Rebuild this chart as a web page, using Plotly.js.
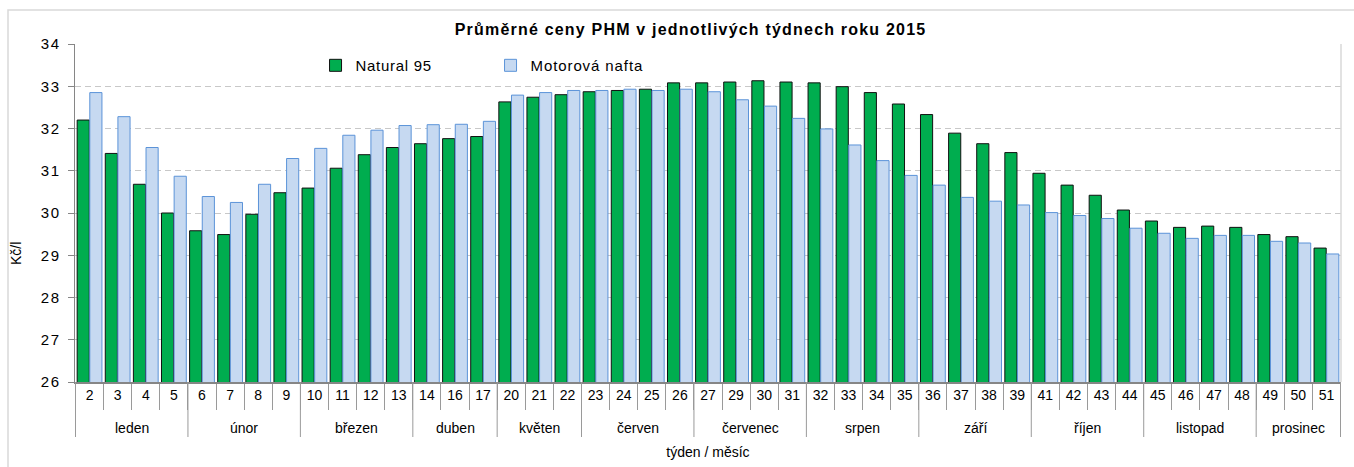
<!DOCTYPE html>
<html>
<head>
<meta charset="utf-8">
<script src="https://cdn.plot.ly/plotly-3.0.1.min.js"></script>
<style>
html,body{margin:0;padding:0;background:#fff;}
#chart{width:1354px;height:467px;}
</style>
</head>
<body>
<div id="chart"></div>
<script>
const weeks = ['2','3','4','5','6','7','8','9','10','11','12','13','14','16','17','20','21','22','23','24','25','26','27','29','30','31','32','33','34','35','36','37','38','39','41','42','43','44','45','46','47','48','49','50','51'];
const months = ['leden','leden','leden','leden','únor','únor','únor','únor','březen','březen','březen','březen','duben','duben','duben','květen','květen','květen','červen','červen','červen','červen','červenec','červenec','červenec','červenec','srpen','srpen','srpen','srpen','září','září','září','září','říjen','říjen','říjen','říjen','listopad','listopad','listopad','listopad','prosinec','prosinec','prosinec'];
const natural95 = [32.20,31.41,30.68,30.00,29.58,29.49,29.97,30.48,30.59,31.06,31.38,31.55,31.64,31.76,31.81,32.63,32.74,32.80,32.87,32.90,32.93,33.08,33.08,33.10,33.13,33.10,33.08,32.99,32.85,32.58,32.33,31.89,31.64,31.43,30.94,30.66,30.42,30.07,29.81,29.66,29.69,29.66,29.49,29.44,29.17];
const nafta = [32.85,32.28,31.55,30.87,30.39,30.25,30.68,31.29,31.53,31.84,31.96,32.07,32.09,32.10,32.17,32.79,32.85,32.90,32.90,32.93,32.90,32.93,32.87,32.68,32.53,32.24,31.99,31.61,31.24,30.89,30.66,30.37,30.28,30.19,30.01,29.94,29.87,29.64,29.52,29.40,29.47,29.47,29.33,29.29,29.03];
const yTicks = [26,27,28,29,30,31,32,33,34];

const FONT = '"Liberation Sans", Arial, sans-serif';
const sp = (t, ls) => '<span style="letter-spacing:' + ls + 'px">' + t + '</span>';
const PLOT_H = 338;

// month groups (start/end index along the category axis)
const groups = [];
months.forEach((m, i) => {
  if (!groups.length || groups[groups.length - 1].name !== m) groups.push({name: m, start: i, end: i});
  else groups[groups.length - 1].end = i;
});

const traces = [
  {type:'bar', name:sp('Natural 95', 0.7), x:weeks, y:natural95,
   marker:{color:'#00AD4F', line:{color:'#111111', width:1}}},
  {type:'bar', name:sp('Motorová nafta', 0.9), x:weeks, y:nafta,
   marker:{color:'#C6D9F1', line:{color:'#5B93D8', width:1}}}
];

const shapes = [
  {type:'line', xref:'paper', yref:'paper', x0:1, x1:1, y0:0, y1:1, line:{color:'#d9d9d9', width:1.5}},
  {type:'rect', xref:'paper', yref:'paper', x0:-67/1266, x1:1.05, y0:-0.3, y1:(382-10)/PLOT_H, line:{color:'#d9d9d9', width:1.5}, layer:'below'}
];
const annotations = [
  {text:'Kč/l', xref:'paper', yref:'paper', x:-59/1266, y:(382-254)/PLOT_H, textangle:-90,
   showarrow:false, font:{family:FONT, size:14}, xanchor:'center', yanchor:'middle'}
];
groups.forEach((g, k) => {
  if (k === 0) shapes.push({type:'line', xref:'x', yref:'paper', x0:g.start - 0.5, x1:g.start - 0.5,
    y0:0, y1:-55/PLOT_H, line:{color:'#9a9a9a', width:1}});
  shapes.push({type:'line', xref:'x', yref:'paper', x0:g.end + 0.5, x1:g.end + 0.5,
    y0:0, y1:-55/PLOT_H, line:{color:'#9a9a9a', width:1}});
  annotations.push({text:g.name, xref:'x', yref:'paper', x:(g.start + g.end) / 2, y:-46/PLOT_H,
    showarrow:false, font:{family:FONT, size:14}, xanchor:'center', yanchor:'middle'});
});

const layout = {
  width:1354, height:467,
  margin:{l:75, r:13, t:44, b:85},
  paper_bgcolor:'#ffffff', plot_bgcolor:'#ffffff',
  font:{family:FONT, size:14, color:'#000'},
  title:{text:'<b>' + sp('Průměrné ceny PHM v jednotlivých týdnech roku 2015', 1.2) + '</b>',
         font:{family:FONT, size:16, color:'#000'},
         xref:'container', x:0.51, xanchor:'center',
         yref:'container', y:1-29/467, yanchor:'middle'},
  barmode:'group', bargap:0.1, bargroupgap:0.04,
  showlegend:true,
  legend:{orientation:'h', x:0.19, y:0.985, xanchor:'left', yanchor:'top',
          font:{family:FONT, size:15}, bgcolor:'rgba(0,0,0,0)',
          entrywidth:130, itemwidth:20, traceorder:'normal'},
  xaxis:{type:'category', showline:true, linecolor:'#868686', linewidth:1.5,
         ticks:'outside', tickson:'boundaries', ticklen:26, tickcolor:'#9a9a9a', tickwidth:1,
         tickfont:{family:FONT, size:14}, showgrid:false, automargin:false,
         title:{text:'týden / měsíc', font:{family:FONT, size:14}, standoff:45}},
  yaxis:{range:[26,34], tickvals:yTicks, ticktext:yTicks.map(v => sp(String(v), 1.5)),
         showline:true, linecolor:'#868686', linewidth:1.5,
         ticks:'outside', ticklen:6, tickcolor:'#868686', ticklabelstandoff:4,
         showgrid:true, gridcolor:'#c8c8c8', gridwidth:1, griddash:'6px,4px',
         zeroline:false, tickfont:{family:FONT, size:15}, automargin:false},
  shapes:shapes,
  annotations:annotations
};

Plotly.newPlot('chart', traces, layout, {displayModeBar:false, staticPlot:true});
</script>
</body>
</html>
